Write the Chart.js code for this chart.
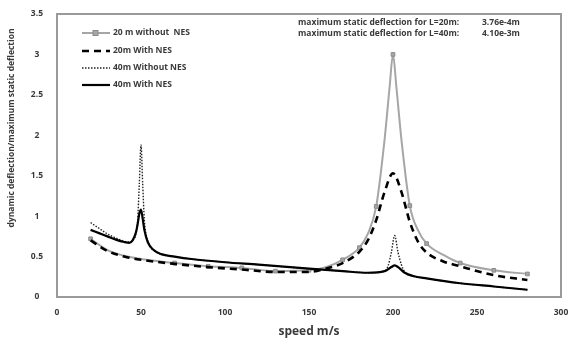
<!DOCTYPE html>
<html>
<head>
<meta charset="utf-8">
<script src="https://cdn.jsdelivr.net/npm/chart.js@4.4.1/dist/chart.umd.min.js"></script>
<style>
    html, body { margin: 0; padding: 0; background: #fff; }
</style>
</head>
<body>
<canvas id="deflectionChart" width="569" height="339"></canvas>
<script>
// 20 m without NES (grey with square markers)
const speed20Without = [20, 30, 40, 50, 70, 90, 110, 130, 150, 160, 170, 180, 185, 190, 195, 198, 200, 202, 205, 210, 215, 220, 230, 240, 260, 280];
const ratio20Without = [0.72, 0.58, 0.51, 0.47, 0.42, 0.38, 0.36, 0.32, 0.33, 0.37, 0.46, 0.61, 0.78, 1.12, 1.95, 2.6, 3.0, 2.6, 1.95, 1.13, 0.82, 0.66, 0.52, 0.42, 0.33, 0.285];
const markerSpeeds20 = [20, 70, 90, 110, 130, 150, 170, 180, 190, 200, 210, 220, 240, 260, 280];

// 20 m with NES (dashed)
const speed20With = [20, 30, 40, 50, 70, 90, 110, 130, 150, 160, 170, 180, 185, 190, 195, 200, 205, 210, 215, 220, 230, 240, 260, 280];
const ratio20With = [0.70, 0.57, 0.50, 0.46, 0.41, 0.37, 0.34, 0.31, 0.31, 0.35, 0.42, 0.56, 0.70, 0.95, 1.30, 1.53, 1.30, 0.93, 0.68, 0.55, 0.44, 0.38, 0.27, 0.21];

// 40 m without NES (dotted)
const speed40Without = [20, 25, 30, 35, 40, 43, 45, 47, 48, 49, 50, 51, 52, 53, 55, 58, 62, 70, 80, 100, 120, 150, 170, 185, 195, 197, 199, 201, 203, 205, 207, 210, 220, 240, 260, 280];
const ratio40Without = [0.92, 0.85, 0.78, 0.73, 0.69, 0.68, 0.70, 0.78, 0.95, 1.40, 1.88, 1.40, 0.95, 0.78, 0.64, 0.57, 0.53, 0.50, 0.47, 0.43, 0.40, 0.35, 0.32, 0.30, 0.32, 0.38, 0.55, 0.76, 0.55, 0.40, 0.31, 0.27, 0.23, 0.17, 0.13, 0.09];

// 40 m with NES (solid)
const speed40With = [20, 25, 30, 35, 40, 43, 45, 47, 48, 49, 50, 51, 52, 54, 57, 62, 70, 80, 100, 120, 150, 170, 185, 195, 199, 201, 203, 207, 212, 220, 240, 260, 280];
const ratio40With = [0.83, 0.79, 0.75, 0.71, 0.68, 0.67, 0.70, 0.80, 0.90, 1.03, 1.08, 0.97, 0.83, 0.68, 0.59, 0.53, 0.50, 0.47, 0.43, 0.40, 0.35, 0.32, 0.30, 0.32, 0.37, 0.39, 0.37, 0.30, 0.26, 0.23, 0.17, 0.13, 0.09];

const seriesNames = ['20 m without  NES', '20m With NES', '40m Without NES', '40m With NES'];
const staticNotes = [
    ['maximum static deflection for L=20m:', '3.76e-4m'],
    ['maximum static deflection for L=40m:', '4.10e-3m']
];

const xTitle = 'speed m/s';
const yTitle = 'dynamic deflection/maximum static deflection';

const FONT = '"Open Sans", "Liberation Sans", sans-serif';
const TEXT = '#3a3a3a';
const GREY = '#a6a6a6';

function toPoints(xs, ys) {
    return xs.map((x, i) => ({ x: x, y: ys[i] }));
}

const extras = {
    id: 'extras',
    beforeDatasetsDraw(chart) {
        const { ctx, chartArea: a } = chart;
        ctx.save();
        ctx.strokeStyle = '#9a9a9a';
        ctx.lineWidth = 2;
        ctx.strokeRect(a.left, a.top, a.right - a.left, a.bottom - a.top);
        ctx.restore();
    },
    afterDraw(chart) {
        const ctx = chart.ctx;
        const sets = chart.data.datasets;
        ctx.save();

        // y axis title
        ctx.translate(12, 128);
        ctx.rotate(-Math.PI / 2);
        ctx.font = 'bold 8.5px ' + FONT;
        ctx.fillStyle = TEXT;
        ctx.textAlign = 'center';
        ctx.textBaseline = 'middle';
        ctx.fillText(yTitle, 0, 0);
        ctx.setTransform(1, 0, 0, 1, 0, 0);

        // legend
        const rows = [33, 51, 68, 85];
        sets.forEach((ds, i) => {
            const y = rows[i];
            ctx.strokeStyle = ds.borderColor;
            ctx.lineWidth = ds.borderWidth;
            ctx.setLineDash(ds.borderDash || []);
            ctx.beginPath();
            ctx.moveTo(82, y);
            ctx.lineTo(110, y);
            ctx.stroke();
            ctx.setLineDash([]);
            if (i === 0) {
                ctx.fillStyle = GREY;
                ctx.strokeStyle = '#8c8c8c';
                ctx.lineWidth = 1;
                ctx.fillRect(93, y - 2.5, 5, 5);
                ctx.strokeRect(93, y - 2.5, 5, 5);
            }
            ctx.font = 'bold 8.5px ' + FONT;
            ctx.fillStyle = TEXT;
            ctx.textAlign = 'left';
            ctx.textBaseline = 'middle';
            ctx.fillText(ds.label, 113, y);
        });

        // static deflection notes
        staticNotes.forEach((note, i) => {
            const y = 23 + i * 10.5;
            ctx.fillText(note[0], 298, y);
            ctx.fillText(note[1], 482, y);
        });
        ctx.restore();
    }
};

new Chart(document.getElementById('deflectionChart'), {
    type: 'line',
    data: {
        datasets: [
            {
                label: seriesNames[0],
                data: toPoints(speed20Without, ratio20Without),
                borderColor: GREY,
                backgroundColor: GREY,
                borderWidth: 2,
                pointStyle: 'rect',
                pointRadius: c => markerSpeeds20.includes(c.raw && c.raw.x) ? 2.6 : 0,
                pointBackgroundColor: GREY,
                pointBorderColor: '#8c8c8c',
                pointBorderWidth: 1,
                order: 4
            },
            {
                label: seriesNames[1],
                data: toPoints(speed20With, ratio20With),
                borderColor: '#000',
                borderWidth: 2.6,
                borderDash: [7, 5],
                pointRadius: 0,
                order: 2
            },
            {
                label: seriesNames[2],
                data: toPoints(speed40Without, ratio40Without),
                borderColor: '#222',
                borderWidth: 1.4,
                borderDash: [1.5, 1.5],
                pointRadius: 0,
                order: 3
            },
            {
                label: seriesNames[3],
                data: toPoints(speed40With, ratio40With),
                borderColor: '#000',
                borderWidth: 2.2,
                pointRadius: 0,
                order: 1
            }
        ]
    },
    options: {
        responsive: false,
        animation: false,
        devicePixelRatio: 1,
        cubicInterpolationMode: 'monotone',
        layout: { padding: { left: 0, right: 8, top: 14, bottom: 0 } },
        plugins: {
            legend: { display: false },
            tooltip: { enabled: false }
        },
        scales: {
            x: {
                type: 'linear',
                min: 0,
                max: 300,
                grid: { display: false, drawTicks: false },
                border: { display: false },
                ticks: {
                    stepSize: 50,
                    padding: 10,
                    color: TEXT,
                    font: { family: FONT, size: 8.5, weight: 'bold' }
                },
                title: {
                    display: true,
                    text: xTitle,
                    color: TEXT,
                    padding: { top: 0, bottom: 0 },
                    font: { family: FONT, size: 12, weight: 'bold' }
                },
                afterFit(scale) {
                    scale.height = 42;
                    scale.paddingLeft = 0;
                    scale.paddingRight = 0;
                }
            },
            y: {
                min: 0,
                max: 3.5,
                grid: { display: false, drawTicks: false },
                border: { display: false },
                ticks: {
                    stepSize: 0.5,
                    padding: 14,
                    crossAlign: 'center',
                    color: TEXT,
                    font: { family: FONT, size: 8.5, weight: 'bold' },
                    callback: v => String(v)
                },
                afterFit(scale) {
                    scale.width = 57;
                    scale.paddingTop = 0;
                    scale.paddingBottom = 0;
                }
            }
        }
    },
    plugins: [extras]
});
</script>
</body>
</html>
